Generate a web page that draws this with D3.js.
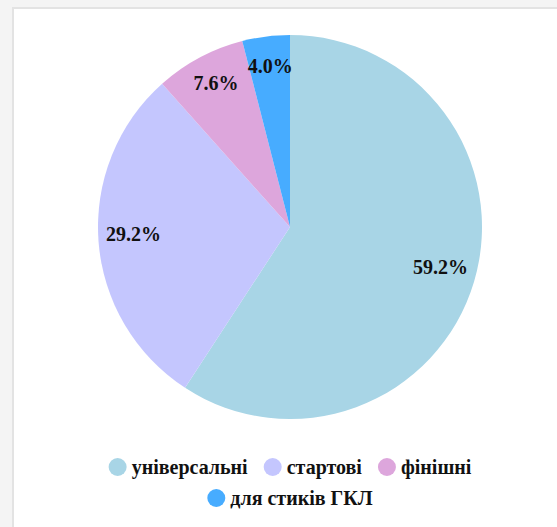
<!DOCTYPE html>
<html>
<head>
<meta charset="utf-8">
<script src="https://cdn.jsdelivr.net/npm/d3@7"></script>
<style>
  html, body { margin: 0; padding: 0; background: #f4f4f4; overflow: hidden; }
  svg { display: block; }
</style>
</head>
<body>
<svg id="chart" width="557" height="527"></svg>
<script>
// Data
var categories = ["універсальні", "стартові", "фінішні", "для стиків ГКЛ"];
var shares = [59.2, 29.2, 7.6, 4.0];
var colours = ["#a8d5e6", "#c4c6fe", "#dda6dc", "#47acff"];

var W = 557, H = 527;
var cx = 290, cy = 227, r = 192;
var labelR = 157;
var serif = "'Liberation Serif', 'Times New Roman', Times, serif";

var svg = d3.select("#chart");

// card frame
svg.append("rect")
    .attr("x", 13).attr("y", 8)
    .attr("width", 620).attr("height", 620)
    .attr("fill", "#ffffff")
    .attr("stroke", "#e3e3e3")
    .attr("stroke-width", 2);

var data = categories.map(function(c, i) { return {key: c, value: shares[i], colour: colours[i]}; });

var pie = d3.pie().sort(null).value(function(d) { return d.value; });
var arc = d3.arc().innerRadius(0).outerRadius(r);
var labelArc = d3.arc().innerRadius(labelR).outerRadius(labelR);

var g = svg.append("g").attr("transform", "translate(" + cx + "," + cy + ")");

var arcs = pie(data);

g.selectAll("path.slice")
    .data(arcs)
    .enter()
    .append("path")
    .attr("class", "slice")
    .attr("d", arc)
    .attr("fill", function(d) { return d.data.colour; });

g.selectAll("text.pct")
    .data(arcs)
    .enter()
    .append("text")
    .attr("class", "pct")
    .attr("x", function(d) { return labelArc.centroid(d)[0]; })
    .attr("y", function(d) { return labelArc.centroid(d)[1] - 5; })
    .attr("text-anchor", "middle")
    .attr("dominant-baseline", "central")
    .style("font-family", serif)
    .attr("font-weight", "bold")
    .attr("font-size", 20)
    .attr("fill", "#111")
    .text(function(d) { return d.data.value.toFixed(1) + "%"; });

// Legend: two centred rows
var rows = [[0, 1, 2], [3]];
var rowY = [467, 498];
var dotR = 9, dotGap = 5, itemGap = 16;

rows.forEach(function(row, ri) {
    var lg = svg.append("g");
    var x = 0;
    row.forEach(function(idx) {
        var item = lg.append("g").attr("transform", "translate(" + x + ",0)");
        item.append("circle")
            .attr("cx", dotR).attr("cy", 0).attr("r", dotR)
            .attr("fill", colours[idx]);
        var t = item.append("text")
            .attr("x", dotR * 2 + dotGap)
            .attr("y", 0)
            .attr("dominant-baseline", "central")
            .style("font-family", serif)
            .attr("font-weight", "bold")
            .attr("font-size", 20)
            .attr("fill", "#111")
            .text(categories[idx]);
        x += dotR * 2 + dotGap + t.node().getComputedTextLength() + itemGap;
    });
    var total = x - itemGap;
    lg.attr("transform", "translate(" + (cx - total / 2) + "," + rowY[ri] + ")");
});
</script>
</body>
</html>
